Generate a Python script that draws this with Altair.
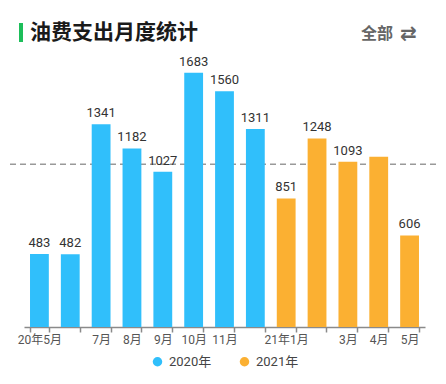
import altair as alt
import pandas as pd

MONTHS = ["20年5月", "6月", "7月", "8月", "9月", "10月", "11月", "12月",
          "21年1月", "2月", "3月", "4月", "5月"]
VALUES = [483, 482, 1341, 1182, 1027, 1683, 1560, 1311, 851, 1248, 1093, 1126, 606]
YEARS = ["2020年", "2020年", "2020年", "2020年", "2020年", "2020年", "2020年", "2020年",
         "2021年", "2021年", "2021年", "2021年", "2021年"]
SHOW_VALUE = [1, 1, 1, 1, 1, 1, 1, 1, 1, 1, 1, 0, 1]
HIDDEN_TICK_LABELS = ["6月", "12月", "2月"]
SERIES = ["2020年", "2021年"]
COLORS = ["#30BFFB", "#FBB032"]
TITLE = "油费支出月度统计"
SWITCH = "全部"
ICON = "⇄"

FONT = "Roboto, 'Noto Sans CJK SC', sans-serif"
CJK = "'Noto Sans CJK SC', Roboto, sans-serif"

df = pd.DataFrame({"month": MONTHS, "value": VALUES, "year": YEARS, "show": SHOW_VALUE})

hide_expr = " || ".join([f"datum.label == '{m}'" for m in HIDDEN_TICK_LABELS])

x_enc = alt.X(
    "month:N", sort=MONTHS,
    scale=alt.Scale(paddingInner=0.39, paddingOuter=0.195),
    axis=alt.Axis(title=None, labelAngle=0, tickBand="extent", tickSize=5,
                  labelExpr=f"({hide_expr}) ? '' : datum.label",
                  labelFontSize=12, labelColor="#555", labelFont=FONT,
                  domainColor="#8a8a8a", tickColor="#8a8a8a", domainWidth=1.5,
                  tickWidth=1.5, labelPadding=2, grid=False),
)
y_enc = alt.Y("value:Q", scale=alt.Scale(domain=[0, 1800], nice=False), axis=None)

base = alt.Chart(df)

bars = base.mark_bar().encode(
    x=x_enc, y=y_enc,
    color=alt.Color("year:N", scale=alt.Scale(domain=SERIES, range=COLORS),
                    legend=alt.Legend(title=None, orient="none", legendX=127, legendY=300,
                                      direction="horizontal", symbolType="circle",
                                      symbolSize=90, labelFontSize=13, labelColor="#444",
                                      labelFont=FONT, columnPadding=26, labelOffset=5)),
)

labels = base.transform_filter("datum.show == 1").mark_text(
    baseline="bottom", dy=-4, fontSize=13, color="#333", font=FONT
).encode(x=alt.X("month:N", sort=MONTHS), y=y_enc, text="value:Q")

mean_rule = base.transform_aggregate(mean="mean(value)").mark_rule(
    color="#999", strokeDash=[6, 4], strokeWidth=1.5
).encode(y=alt.Y("mean:Q", scale=alt.Scale(domain=[0, 1800], nice=False), axis=None),
         x=alt.value(-24), x2=alt.value(422))

one = pd.DataFrame({"t": [TITLE], "s": [SWITCH], "i": [ICON]})
head = alt.Chart(one)
green = head.mark_rule(color="#1DBE5A", strokeWidth=4).encode(
    x=alt.value(-3), y=alt.value(-32), y2=alt.value(-13))
title = head.mark_text(align="left", baseline="middle", fontSize=21, fontWeight="bold",
                       color="#1a1a1a", font=CJK).encode(
    x=alt.value(6), y=alt.value(-22), text="t:N")
switch = head.mark_text(align="left", baseline="middle", fontSize=16, fontWeight="bold",
                        color="#666", font=CJK).encode(
    x=alt.value(337), y=alt.value(-21), text="s:N")
icon = head.mark_text(align="left", baseline="middle", fontSize=20, fontWeight="bold",
                      color="#666", font="DejaVu Sans").encode(
    x=alt.value(376), y=alt.value(-21), text="i:N")

chart = alt.layer(mean_rule, bars, labels, green, title, switch, icon).properties(
    width=401, height=272, autosize="none",
    padding={"left": 16, "top": 47, "right": 13, "bottom": 49},
).configure_view(stroke=None)

chart.save("out.html", embed_options={"renderer": "svg", "actions": False})
